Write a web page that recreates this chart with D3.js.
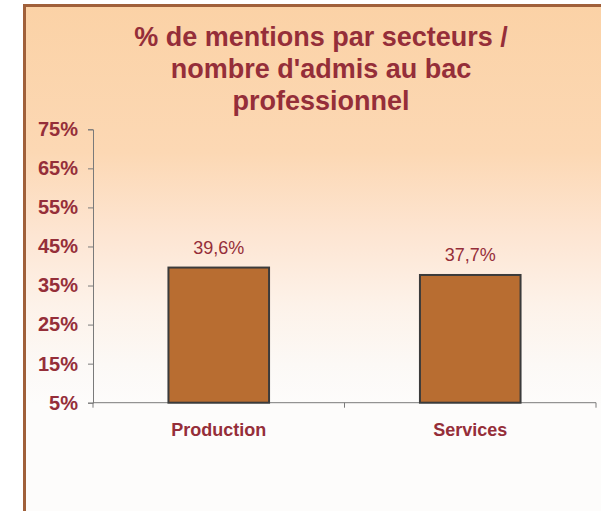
<!DOCTYPE html>
<html>
<head>
<meta charset="utf-8">
<script src="https://cdn.jsdelivr.net/npm/d3@7"></script>
<style>
  html, body { margin: 0; padding: 0; background: #ffffff; }
  svg { display: block; }
</style>
</head>
<body>
<div id="chart"></div>
<script>
// chart data
const categories = ['Production', 'Services'];
const values = [39.6, 37.7];
const valueLabels = ['39,6%', '37,7%'];
const yTicks = [5, 15, 25, 35, 45, 55, 65, 75];
const titleLines = ['% de mentions par secteurs /', "nombre d'admis au bac", 'professionnel'];

const W = 601, H = 511;
const red = '#952e39';
const font = 'Liberation Sans, Arial, Helvetica, sans-serif';

const svg = d3.select('#chart').append('svg')
  .attr('width', W)
  .attr('height', H);

// background gradient
const defs = svg.append('defs');
const grad = defs.append('linearGradient')
  .attr('id', 'bg')
  .attr('gradientUnits', 'userSpaceOnUse')
  .attr('x1', 0).attr('y1', 5).attr('x2', 0).attr('y2', 405);
grad.append('stop').attr('offset', '0%').attr('stop-color', '#fbd2a6');
grad.append('stop').attr('offset', '37%').attr('stop-color', '#fcd8b4');
grad.append('stop').attr('offset', '57%').attr('stop-color', '#fde5d2');
grad.append('stop').attr('offset', '75%').attr('stop-color', '#fdf2e9');
grad.append('stop').attr('offset', '90%').attr('stop-color', '#fcf9f6');
grad.append('stop').attr('offset', '100%').attr('stop-color', '#fdfcfb');

// frame (extends past right and bottom edges)
svg.append('rect')
  .attr('x', 24.5).attr('y', 5.5)
  .attr('width', 700).attr('height', 600)
  .attr('fill', 'url(#bg)')
  .attr('stroke', '#a0603a')
  .attr('stroke-width', 3);

// title
svg.append('g').selectAll('text')
  .data(titleLines)
  .join('text')
  .attr('x', 321)
  .attr('y', (d, i) => 46 + i * 32)
  .attr('text-anchor', 'middle')
  .attr('font-family', font)
  .attr('font-weight', 'bold')
  .attr('font-size', 27)
  .attr('fill', red)
  .text(d => d);

// scales
const left = 93, right = 596;
const x = d3.scaleBand()
  .domain(categories)
  .range([left, right])
  .paddingInner(0.6)
  .paddingOuter(0.3);
const y = d3.scaleLinear()
  .domain([5, 75])
  .range([402.7, 129.3]);

// y axis
const yAxis = svg.append('g')
  .attr('transform', `translate(${left},0)`)
  .call(d3.axisLeft(y).tickValues(yTicks).tickSize(5).tickPadding(10).tickFormat(d => d + '%'));
yAxis.select('.domain').attr('stroke', '#7a7a7a');
yAxis.selectAll('.tick line').attr('stroke', '#7a7a7a');
yAxis.selectAll('.tick text')
  .attr('font-family', font)
  .attr('font-weight', 'bold')
  .attr('font-size', 20)
  .attr('fill', red);

// x axis with boundary ticks between categories
const xAxisG = svg.append('g')
  .attr('transform', `translate(0,${y(5)})`);
xAxisG.append('line')
  .attr('x1', left).attr('x2', right)
  .attr('stroke', '#7a7a7a');
const step = (right - left) / categories.length;
xAxisG.selectAll('.xtick')
  .data(d3.range(categories.length + 1))
  .join('line')
  .attr('class', 'xtick')
  .attr('x1', i => left + i * step)
  .attr('x2', i => left + i * step)
  .attr('y1', 0).attr('y2', 5)
  .attr('stroke', '#7a7a7a');

// bars
svg.append('g').selectAll('rect')
  .data(values)
  .join('rect')
  .attr('x', (d, i) => x(categories[i]))
  .attr('y', d => y(d))
  .attr('width', x.bandwidth())
  .attr('height', d => y(5) - y(d))
  .attr('fill', '#b86d31')
  .attr('stroke', '#3b3b3b')
  .attr('stroke-width', 2);

// value labels
svg.append('g').selectAll('text')
  .data(values)
  .join('text')
  .attr('x', (d, i) => x(categories[i]) + x.bandwidth() / 2)
  .attr('y', d => y(d) - 14)
  .attr('text-anchor', 'middle')
  .attr('font-family', font)
  .attr('font-size', 18)
  .attr('fill', red)
  .text((d, i) => valueLabels[i]);

// category labels
svg.append('g').selectAll('text')
  .data(categories)
  .join('text')
  .attr('x', d => x(d) + x.bandwidth() / 2)
  .attr('y', 436)
  .attr('text-anchor', 'middle')
  .attr('font-family', font)
  .attr('font-weight', 'bold')
  .attr('font-size', 18)
  .attr('fill', red)
  .text(d => d);
</script>
</body>
</html>
